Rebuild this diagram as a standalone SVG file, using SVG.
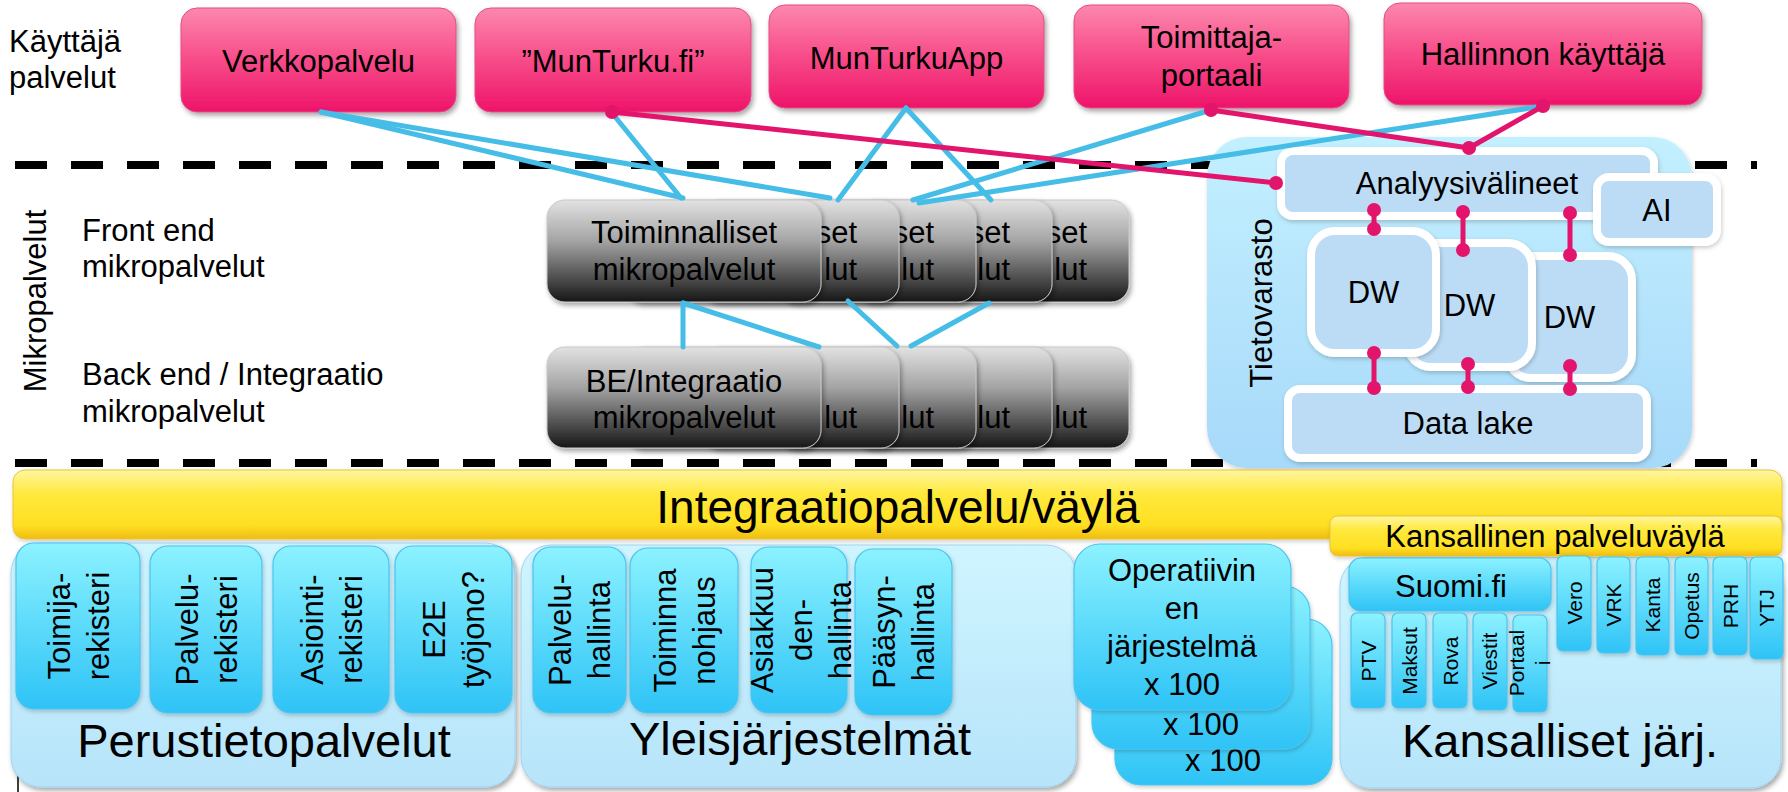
<svg xmlns="http://www.w3.org/2000/svg" width="1788" height="792" viewBox="0 0 1788 792">
<defs>
<style>
text{font-family:"Liberation Sans",Arial,sans-serif;fill:#000}
.f31{font-size:31px}
.f47{font-size:47px}
.f46{font-size:46px}
.f21{font-size:21px}
.mid{text-anchor:middle}
.end{text-anchor:end}
.pink{fill:url(#pinkG);stroke:#e24c84;stroke-width:1}
.gray{fill:url(#grayG);stroke:#c8c8c8;stroke-width:1}
.cont{fill:url(#contG);stroke:#9fd3ef;stroke-width:1}
.cyan{fill:url(#cyanG);stroke:#4cc4ee;stroke-width:1.2}
.lb{fill:#bcdcf5;stroke:#fff;stroke-width:8}
.blue{stroke:#45bde6;stroke-width:5;stroke-linecap:round;fill:none}
.pk{stroke:#e2146c;stroke-width:5;stroke-linecap:round;fill:none}
.dot{fill:#e2146c}
.dash{stroke:#000;stroke-width:8;stroke-dasharray:32 24}
</style>
<linearGradient id="pinkG" x1="0" y1="0" x2="0" y2="1">
<stop offset="0" stop-color="#fc88ae"/><stop offset="0.45" stop-color="#f8518c"/><stop offset="1" stop-color="#ee146a"/>
</linearGradient>
<linearGradient id="grayG" x1="0" y1="0" x2="0" y2="1">
<stop offset="0" stop-color="#e2e2e2"/><stop offset="0.4" stop-color="#a4a4a4"/><stop offset="0.85" stop-color="#3a3a3a"/><stop offset="1" stop-color="#161616"/>
</linearGradient>
<linearGradient id="tvG" x1="0" y1="0" x2="0" y2="1">
<stop offset="0" stop-color="#c3f0ff"/><stop offset="1" stop-color="#a7d9f9"/>
</linearGradient>
<linearGradient id="yelG" x1="0" y1="0" x2="0" y2="1">
<stop offset="0" stop-color="#fff6a0"/><stop offset="0.35" stop-color="#ffe93c"/><stop offset="0.8" stop-color="#ffdf22"/><stop offset="1" stop-color="#efbc14"/>
</linearGradient>
<linearGradient id="contG" x1="0" y1="0" x2="0" y2="1">
<stop offset="0" stop-color="#cff5ff"/><stop offset="1" stop-color="#b7e4fa"/>
</linearGradient>
<linearGradient id="cyanG" x1="0" y1="0" x2="0" y2="1">
<stop offset="0" stop-color="#8cf2ff"/><stop offset="1" stop-color="#2ec3f6"/>
</linearGradient>
<filter id="sh" x="-10%" y="-10%" width="125%" height="140%">
<feDropShadow dx="2" dy="3" stdDeviation="2.5" flood-color="#000" flood-opacity="0.35"/>
</filter>
<filter id="shl" x="-10%" y="-10%" width="125%" height="140%">
<feDropShadow dx="1" dy="2" stdDeviation="2" flood-color="#000" flood-opacity="0.2"/>
</filter>
</defs>
<rect width="1788" height="792" fill="#fff"/>

<!-- dashed separators -->
<g id="separators">
<line class="dash" x1="15" y1="165" x2="1757" y2="165"/>
<line class="dash" x1="15" y1="463" x2="1757" y2="463"/>
<path d="M18,792 L18,778 Q18,767 30,766" fill="none" stroke="#000" stroke-width="1.5"/>
</g>

<!-- left labels -->
<g id="labels">
<text class="f31" x="9"><tspan x="9" y="52">Käyttäjä</tspan><tspan x="9" y="88">palvelut</tspan></text>
<text class="f31 mid" transform="translate(0,301) rotate(-90)" y="46">Mikropalvelut</text>
<text class="f31" x="82"><tspan x="82" y="241">Front end</tspan><tspan x="82" y="277">mikropalvelut</tspan></text>
<text class="f31" x="82"><tspan x="82" y="385">Back end / Integraatio</tspan><tspan x="82" y="422">mikropalvelut</tspan></text>
</g>

<!-- top user services -->
<g id="verkkopalvelu"><rect class="pink" x="181" y="8" width="275" height="104" rx="16" filter="url(#sh)"/><text class="f31 mid" x="318.5" y="72">Verkkopalvelu</text></g>
<g id="munturkufi"><rect class="pink" x="475" y="8" width="276" height="104" rx="16" filter="url(#sh)"/><text class="f31 mid" x="613" y="72">”MunTurku.fi”</text></g>
<g id="munturkuapp"><rect class="pink" x="769" y="5" width="275" height="103" rx="16" filter="url(#sh)"/><text class="f31 mid" x="906.5" y="69">MunTurkuApp</text></g>
<g id="toimittaja"><rect class="pink" x="1074" y="5" width="275" height="103" rx="16" filter="url(#sh)"/><text class="f31 mid"><tspan x="1211.5" y="48">Toimittaja-</tspan><tspan x="1211.5" y="86">portaali</tspan></text></g>
<g id="hallinnon"><rect class="pink" x="1384" y="3" width="318" height="102" rx="16" filter="url(#sh)"/><text class="f31 mid" x="1543" y="65">Hallinnon käyttäjä</text></g>

<!-- front end microservices -->
<g id="fe-micro">
<rect class="gray" x="855" y="200" width="274" height="102" rx="18" filter="url(#sh)"/>
<text class="f31 end"><tspan x="1087" y="243">set</tspan><tspan x="1087" y="280">lut</tspan></text>
<rect class="gray" x="778" y="200" width="274" height="102" rx="18" filter="url(#sh)"/>
<text class="f31 end"><tspan x="1010" y="243">set</tspan><tspan x="1010" y="280">lut</tspan></text>
<rect class="gray" x="702" y="200" width="274" height="102" rx="18" filter="url(#sh)"/>
<text class="f31 end"><tspan x="934" y="243">set</tspan><tspan x="934" y="280">lut</tspan></text>
<rect class="gray" x="625" y="200" width="274" height="102" rx="18" filter="url(#sh)"/>
<text class="f31 end"><tspan x="857" y="243">set</tspan><tspan x="857" y="280">lut</tspan></text>
<rect class="gray" x="547" y="200" width="274" height="102" rx="18" filter="url(#sh)"/>
<text class="f31 mid"><tspan x="684" y="243">Toiminnalliset</tspan><tspan x="684" y="280">mikropalvelut</tspan></text>
</g>

<!-- back end microservices -->
<g id="be-micro">
<rect class="gray" x="855" y="347" width="274" height="101" rx="18" filter="url(#sh)"/>
<text class="f31 end" x="1087" y="428">lut</text>
<rect class="gray" x="778" y="347" width="274" height="101" rx="18" filter="url(#sh)"/>
<text class="f31 end" x="1010" y="428">lut</text>
<rect class="gray" x="702" y="347" width="274" height="101" rx="18" filter="url(#sh)"/>
<text class="f31 end" x="934" y="428">lut</text>
<rect class="gray" x="625" y="347" width="274" height="101" rx="18" filter="url(#sh)"/>
<text class="f31 end" x="857" y="428">lut</text>
<rect class="gray" x="547" y="347" width="274" height="101" rx="18" filter="url(#sh)"/>
<text class="f31 mid"><tspan x="684" y="392">BE/Integraatio</tspan><tspan x="684" y="428">mikropalvelut</tspan></text>
</g>

<!-- Tietovarasto -->
<g id="tietovarasto">
<rect x="1207" y="137" width="485" height="331" rx="40" fill="url(#tvG)" filter="url(#shl)"/>
<text class="f31 mid" transform="translate(0,303) rotate(-90)" y="1272">Tietovarasto</text>
</g>
<g id="analyysivalineet"><rect class="lb" x="1281" y="151" width="373" height="65" rx="12" filter="url(#shl)"/><text class="f31 mid" x="1467" y="194">Analyysivälineet</text></g>
<g id="ai"><rect class="lb" x="1597" y="177" width="120" height="65" rx="12" filter="url(#shl)"/><text class="f31 mid" x="1657" y="221">AI</text></g>
<g id="dw3"><rect class="lb" x="1507" y="256" width="125" height="122" rx="24" filter="url(#shl)"/><text class="f31 mid" x="1569.5" y="328">DW</text></g>
<g id="dw2"><rect class="lb" x="1407" y="243" width="125" height="124" rx="24" filter="url(#shl)"/><text class="f31 mid" x="1469.5" y="316">DW</text></g>
<g id="dw1"><rect class="lb" x="1311" y="231" width="125" height="122" rx="24" filter="url(#shl)"/><text class="f31 mid" x="1373.5" y="303">DW</text></g>
<g id="datalake"><rect class="lb" x="1288" y="389" width="359" height="69" rx="12" filter="url(#shl)"/><text class="f31 mid" x="1468" y="434">Data lake</text></g>

<!-- integration bus -->
<g id="integraatio"><rect x="13" y="470" width="1769" height="69" rx="12" fill="url(#yelG)" stroke="#e8c53a" stroke-width="1" filter="url(#shl)"/><text class="f46 mid" x="898" y="523">Integraatiopalvelu/väylä</text></g>

<!-- Perustietopalvelut -->
<g id="perustieto">
<rect class="cont" x="11" y="543" width="504" height="244" rx="30" filter="url(#sh)"/>
<text class="f47 mid" x="264" y="757">Perustietopalvelut</text>
</g>
<g id="toimijarekisteri"><rect class="cyan" x="16" y="543" width="124" height="166" rx="18" filter="url(#shl)"/><text class="f31 mid" transform="translate(0,626) rotate(-90)"><tspan x="0" y="69.5">Toimija-</tspan><tspan x="0" y="108.5">rekisteri</tspan></text></g>
<g id="palvelurekisteri"><rect class="cyan" x="150" y="546" width="112" height="167" rx="18" filter="url(#shl)"/><text class="f31 mid" transform="translate(0,629.5) rotate(-90)"><tspan x="0" y="197.5">Palvelu-</tspan><tspan x="0" y="236.5">rekisteri</tspan></text></g>
<g id="asiointirekisteri"><rect class="cyan" x="273" y="546" width="116" height="167" rx="18" filter="url(#shl)"/><text class="f31 mid" transform="translate(0,629.5) rotate(-90)"><tspan x="0" y="322.5">Asiointi-</tspan><tspan x="0" y="361.5">rekisteri</tspan></text></g>
<g id="e2e"><rect class="cyan" x="395" y="546" width="117" height="167" rx="18" filter="url(#shl)"/><text class="f31 mid" transform="translate(0,629.5) rotate(-90)"><tspan x="0" y="445">E2E</tspan><tspan x="0" y="484">työjono?</tspan></text></g>

<!-- Yleisjärjestelmät -->
<g id="yleis">
<rect class="cont" x="521" y="545" width="555" height="242" rx="30" filter="url(#sh)"/>
<text class="f47 mid" x="800" y="755">Yleisjärjestelmät</text>
</g>
<g id="palveluhallinta"><rect class="cyan" x="533" y="547" width="93" height="166" rx="18" filter="url(#shl)"/><text class="f31 mid" transform="translate(0,630) rotate(-90)"><tspan x="0" y="571">Palvelu-</tspan><tspan x="0" y="610">hallinta</tspan></text></g>
<g id="toiminnanohjaus"><rect class="cyan" x="630" y="548" width="108" height="165" rx="18" filter="url(#shl)"/><text class="f31 mid" transform="translate(0,630.5) rotate(-90)"><tspan x="0" y="675.5">Toiminna</tspan><tspan x="0" y="714.5">nohjaus</tspan></text></g>
<g id="asiakkuudenhallinta"><rect class="cyan" x="751" y="547" width="96" height="166" rx="18" filter="url(#shl)"/><text class="f31 mid" transform="translate(0,630) rotate(-90)"><tspan x="0" y="773">Asiakkuu</tspan><tspan x="0" y="812">den-</tspan><tspan x="0" y="851">hallinta</tspan></text></g>
<g id="paasynhallinta"><rect class="cyan" x="855" y="549" width="97" height="166" rx="18" filter="url(#shl)"/><text class="f31 mid" transform="translate(0,632) rotate(-90)"><tspan x="0" y="895">Pääsyn-</tspan><tspan x="0" y="934">hallinta</tspan></text></g>

<!-- Operatiiviset järjestelmät -->
<g id="operatiivinen3"><rect class="cyan" x="1115" y="619" width="217" height="166" rx="26" filter="url(#shl)"/><text class="f31 mid" x="1223" y="771">x 100</text></g>
<g id="operatiivinen2"><rect class="cyan" x="1092" y="586" width="218" height="163" rx="26" filter="url(#shl)"/><text class="f31 mid" x="1201" y="735">x 100</text></g>
<g id="operatiivinen1"><rect class="cyan" x="1074" y="544" width="217" height="166" rx="26" filter="url(#shl)"/><text class="f31 mid"><tspan x="1182" y="581">Operatiivin</tspan><tspan x="1182" y="619">en</tspan><tspan x="1182" y="657">järjestelmä</tspan><tspan x="1182" y="695">x 100</tspan></text></g>

<!-- Kansalliset -->
<g id="kansalliset">
<rect class="cont" x="1340" y="557" width="441" height="231" rx="30" filter="url(#sh)"/>
<text class="f47 mid" x="1560" y="757">Kansalliset järj.</text>
</g>
<g id="kansallinenvayla"><rect x="1330" y="516" width="452" height="40" rx="8" fill="url(#yelG)" stroke="#e8c53a" stroke-width="1" filter="url(#shl)"/><text class="f31 mid" x="1555" y="547">Kansallinen palveluväylä</text></g>
<g id="suomifi"><rect class="cyan" x="1349" y="558" width="202" height="53" rx="12" filter="url(#shl)"/><text class="f31 mid" x="1451" y="597">Suomi.fi</text></g>
<g id="ptv"><rect class="cyan" x="1351" y="613" width="34" height="95" rx="6" filter="url(#shl)"/><text class="f21 mid" transform="translate(0,661) rotate(-90)" y="1376">PTV</text></g>
<g id="maksut"><rect class="cyan" x="1392" y="613" width="34" height="95" rx="6" filter="url(#shl)"/><text class="f21 mid" transform="translate(0,661) rotate(-90)" y="1417">Maksut</text></g>
<g id="rova"><rect class="cyan" x="1433" y="613" width="34" height="95" rx="6" filter="url(#shl)"/><text class="f21 mid" transform="translate(0,661) rotate(-90)" y="1458">Rova</text></g>
<g id="viestit"><rect class="cyan" x="1473" y="613" width="34" height="97" rx="6" filter="url(#shl)"/><text class="f21 mid" transform="translate(0,661) rotate(-90)" y="1497">Viestit</text></g>
<g id="portaali"><rect class="cyan" x="1513" y="615" width="34" height="97" rx="6" filter="url(#shl)"/><text class="f21 mid" transform="translate(0,663) rotate(-90)"><tspan x="0" y="1524">Portaal</tspan><tspan x="0" y="1550">i</tspan></text></g>
<g id="vero"><rect class="cyan" x="1557" y="556" width="34" height="95" rx="6" filter="url(#shl)"/><text class="f21 mid" transform="translate(0,603) rotate(-90)" y="1582">Vero</text></g>
<g id="vrk"><rect class="cyan" x="1597" y="557" width="33" height="96" rx="6" filter="url(#shl)"/><text class="f21 mid" transform="translate(0,605) rotate(-90)" y="1621">VRK</text></g>
<g id="kanta"><rect class="cyan" x="1636" y="557" width="33" height="98" rx="6" filter="url(#shl)"/><text class="f21 mid" transform="translate(0,605) rotate(-90)" y="1660">Kanta</text></g>
<g id="opetus"><rect class="cyan" x="1675" y="557" width="33" height="98" rx="6" filter="url(#shl)"/><text class="f21 mid" transform="translate(0,606) rotate(-90)" y="1699">Opetus</text></g>
<g id="prh"><rect class="cyan" x="1713" y="557" width="34" height="98" rx="6" filter="url(#shl)"/><text class="f21 mid" transform="translate(0,606) rotate(-90)" y="1738">PRH</text></g>
<g id="ytj"><rect class="cyan" x="1750" y="557" width="33" height="102" rx="6" filter="url(#shl)"/><text class="f21 mid" transform="translate(0,608) rotate(-90)" y="1774">YTJ</text></g>

<!-- connectors -->
<g id="connectors">
<line class="blue" x1="321" y1="112" x2="683" y2="198"/>
<line class="blue" x1="321" y1="112" x2="830" y2="198"/>
<line class="blue" x1="612" y1="113" x2="681" y2="198"/>
<line class="blue" x1="906" y1="108" x2="838" y2="200"/>
<line class="blue" x1="906" y1="108" x2="991" y2="200"/>
<line class="blue" x1="1211" y1="110" x2="913" y2="200"/>
<line class="blue" x1="1543" y1="106" x2="919" y2="203"/>
<line class="blue" x1="683" y1="303" x2="683" y2="347"/>
<line class="blue" x1="683" y1="303" x2="819" y2="347"/>
<line class="blue" x1="848" y1="301" x2="897" y2="346"/>
<line class="blue" x1="989" y1="303" x2="911" y2="346"/>
<line class="pk" x1="612" y1="112" x2="1276" y2="183"/>
<line class="pk" x1="1211" y1="110" x2="1469" y2="148"/>
<line class="pk" x1="1543" y1="106" x2="1469" y2="148"/>
<circle class="dot" cx="612" cy="112" r="7"/>
<circle class="dot" cx="1276" cy="183" r="7"/>
<circle class="dot" cx="1211" cy="110" r="7"/>
<circle class="dot" cx="1543" cy="106" r="7"/>
<circle class="dot" cx="1469" cy="148" r="7"/>
<line class="pk" x1="1374" y1="210" x2="1374" y2="229"/>
<circle class="dot" cx="1374" cy="210" r="7"/><circle class="dot" cx="1374" cy="229" r="7"/>
<line class="pk" x1="1463" y1="212" x2="1463" y2="250"/>
<circle class="dot" cx="1463" cy="212" r="7"/><circle class="dot" cx="1463" cy="250" r="7"/>
<line class="pk" x1="1570" y1="213" x2="1570" y2="255"/>
<circle class="dot" cx="1570" cy="213" r="7"/><circle class="dot" cx="1570" cy="255" r="7"/>
<line class="pk" x1="1374" y1="353" x2="1374" y2="388"/>
<circle class="dot" cx="1374" cy="353" r="7"/><circle class="dot" cx="1374" cy="388" r="7"/>
<line class="pk" x1="1468" y1="364" x2="1468" y2="387"/>
<circle class="dot" cx="1468" cy="364" r="7"/><circle class="dot" cx="1468" cy="387" r="7"/>
<line class="pk" x1="1570" y1="366" x2="1570" y2="389"/>
<circle class="dot" cx="1570" cy="366" r="7"/><circle class="dot" cx="1570" cy="389" r="7"/>
</g>
</svg>
